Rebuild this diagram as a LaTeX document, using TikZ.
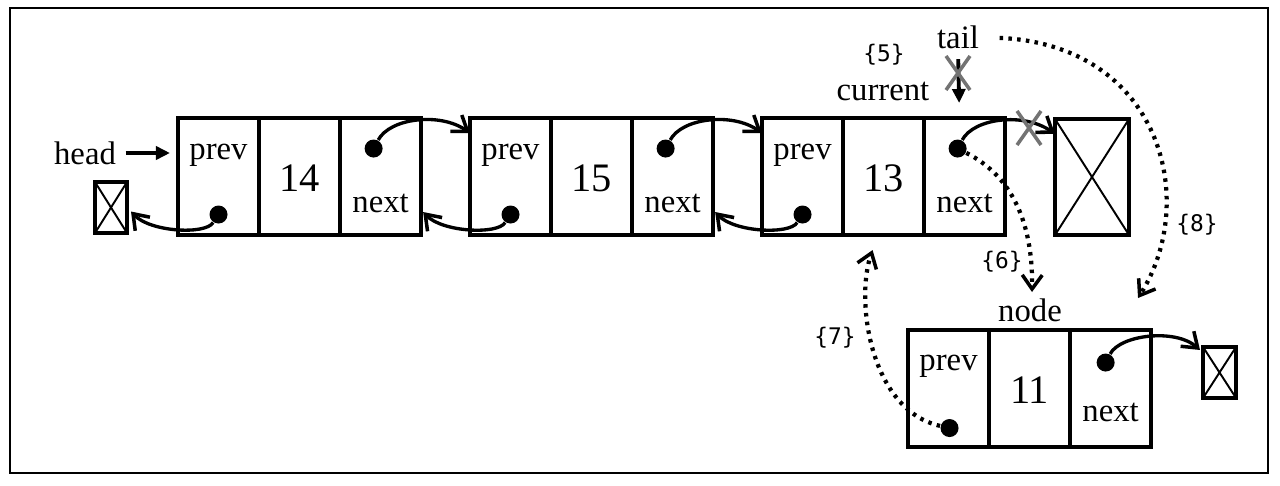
\documentclass[tikz,border=0pt]{standalone}
\usepackage{fontspec}
\setmainfont{Liberation Serif}
\newfontfamily\monof{DejaVu Sans Mono}
\usetikzlibrary{arrows.meta,calc}
\begin{document}
\begin{tikzpicture}[x=0.01cm,y=-0.01cm,
  cell/.style={draw,line width=1pt,minimum width=0.81cm,minimum height=1.17cm,inner sep=0,outer sep=0,anchor=north west},
  lab/.style={font=\fontsize{9.3pt}{11pt}\selectfont,inner sep=0},
  num/.style={font=\fontsize{11.5pt}{13pt}\selectfont,inner sep=0},
  stepnum/.style={font=\monof\fontsize{6.5pt}{8pt}\selectfont,inner sep=0},
  dotnode/.style={circle,fill,minimum size=0.18cm,inner sep=0},
  ptr/.style={line width=0.95pt,-{Straight Barb[length=1.4mm,width=2mm,line width=1pt]}},
  dptr/.style={line width=1.2pt,dash pattern=on 1pt off 1.5pt,-{Straight Barb[length=1.4mm,width=2mm,line width=1pt]}},
  filledptr/.style={line width=1.1pt,-{Triangle[length=1.4mm,width=1.3mm]}},
  nullbox/.style={draw,line width=1pt,inner sep=0,outer sep=0},
  xline/.style={line width=0.55pt},
  cross/.style={draw=black!55,line width=1pt},
]
\useasboundingbox (0,0) rectangle (1280,485);
\draw[line width=0.8pt] (10,8) rectangle (1268,473);

% list nodes
\foreach \k/\x/\v in {1/178/14,2/470/15,3/762/13}{
  \node[cell] (n\k p) at (\x,118) {};
  \node[cell] (n\k v) at (n\k p.north east) {};
  \node[cell] (n\k n) at (n\k v.north east) {};
  \node[lab] at ($(n\k p.north)+(0,37)$) {prev};
  \node[lab] at ($(n\k n.north)+(0,85)$) {next};
  \node[num] at ($(n\k v.center)+(0,2)$) {\v};
  \node[dotnode] (d\k n) at ($(n\k n.center)+(-7,-28)$) {};
  \node[dotnode] (d\k p) at ($(n\k p.center)+(0,38)$) {};
}
\node[cell] (n4p) at (908,330) {};
\node[cell] (n4v) at (n4p.north east) {};
\node[cell] (n4n) at (n4v.north east) {};
\node[lab] at ($(n4p.north)+(0,36)$) {prev};
\node[lab] at ($(n4n.north)+(0,82)$) {next};
\node[num] at ($(n4v.center)+(0,2)$) {11};
\node[dotnode] (d4p) at ($(n4p.center)+(1,39.5)$) {};
\node[dotnode] (d4n) at ($(n4n.center)+(-5,-26)$) {};

% null boxes
\node[nullbox,minimum width=0.32cm,minimum height=0.51cm] (null0) at (111,207.5) {};
\node[nullbox,minimum width=0.74cm,minimum height=1.16cm] (nullT) at (1092,177) {};
\node[nullbox,minimum width=0.33cm,minimum height=0.51cm] (null4) at (1219.5,372.5) {};
\foreach \b in {null0,nullT,null4}{
  \draw[xline] (\b.north west) -- (\b.south east) (\b.north east) -- (\b.south west);
}

% next pointers
\draw[ptr] (d1n) .. controls (390,118) and (440,112) .. ($(n2p.north west)+(0,15)$);
\draw[ptr] (d2n) .. controls (682,118) and (732,112) .. ($(n3p.north west)+(0,15)$);
\draw[ptr] (d3n) .. controls (974,118) and (1024,112) .. ($(nullT.north west)+(0,15)$);
\draw[ptr] (d4n) .. controls (1120,335) and (1175,328) .. ($(null4.north west)+(-3,3)$);
% prev pointers
\draw[ptr] (d1p) .. controls (205,235) and (150,232) .. ($(null0.east)+(4,4)$);
\draw[ptr] (d2p) .. controls (497,235) and (442,232) .. ($(n1n.east)+(2,35.5)$);
\draw[ptr] (d3p) .. controls (789,235) and (734,232) .. ($(n2n.east)+(2,35.5)$);

% labels
\node[lab] (head) at (85,153) {head};
\draw[filledptr,shorten <=0.9mm] (head.east) -- ($(n1p.north west)+(-8,35)$);
\node[lab] (tail) at (958,37) {tail};
\node[lab] (cur) at (883,91) {current};
\node[stepnum] at (884,55) {\{5\}};
\draw[filledptr,shorten <=1mm] (tail.south) -- ($(n3n.north)+(-5.5,-15)$);
\draw[cross] (946,56) -- (970,90) (970,56) -- (946,90);
\draw[cross] (1017,111) -- (1041,145) (1041,111) -- (1017,145);

\node[lab] (nodelbl) at (1030,310) {node};
\coordinate (t6) at (1032,292);
\coordinate (t7) at ($(n3v.south)+(-11,15)$);
\coordinate (t8) at (1138,298);
\draw[dptr] (d3n) .. controls (1010,175) and (1033,220) .. (t6);
\draw[dptr] (d4p) .. controls (870,410) and (855,300) .. (t7);
\draw[dptr,shorten <=2mm] (tail.east) .. controls (1160,45) and (1200,200) .. (t8);
\node[stepnum] at (1002,262) {\{6\}};
\node[stepnum] at (835,338) {\{7\}};
\node[stepnum] at (1197,225) {\{8\}};
\end{tikzpicture}
\end{document}
